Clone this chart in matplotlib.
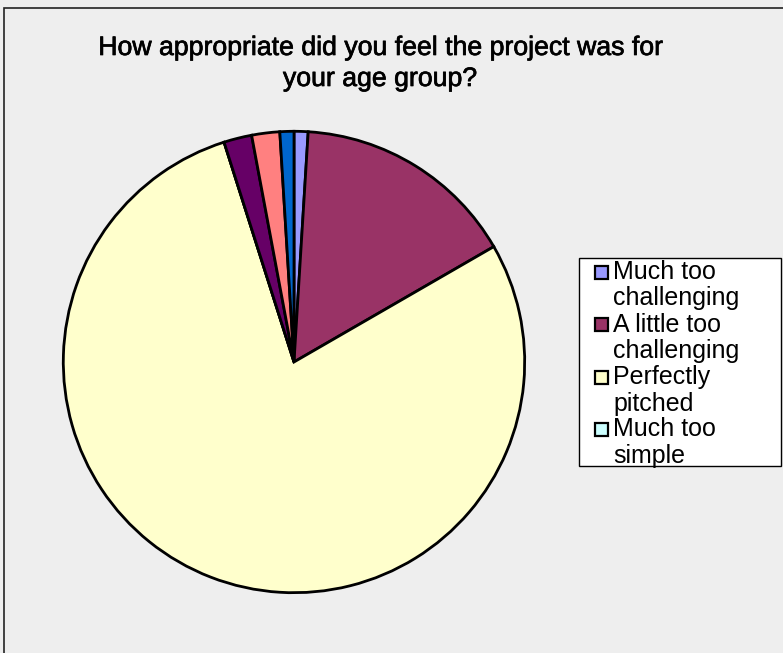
import matplotlib.pyplot as plt
import matplotlib.patheffects as pe
from matplotlib.patches import Rectangle

plt.rcParams['font.family'] = ['Liberation Sans', 'DejaVu Sans']

# survey answers (last three slices have no legend name)
labels = ["Much too\nchallenging", "A little too\nchallenging", "Perfectly\npitched", "Much too\nsimple", "", "", ""]
counts = [1, 16, 80, 0, 2, 2, 1]
colors = ["#9999FF", "#993366", "#FFFFCC", "#CCFFFF", "#660066", "#FF8080", "#0066CC"]

W, H = 783, 653
fig = plt.figure(figsize=(W / 100, H / 100), dpi=100)
fig.patch.set_facecolor("#EEEEEE")


def px(x, y):
    # pixel position (from top-left) -> figure fraction
    return x / W, 1 - y / H


# chart area border
fig.patches.append(Rectangle((4 / W, -0.1), 1.2, (H - 8) / H + 0.1, transform=fig.transFigure,
                             facecolor="none", edgecolor="#222222", linewidth=1.2))

thick = [pe.withStroke(linewidth=0.5, foreground="black")]
fig.text(*px(380, 48), "How appropriate did you feel the project was for",
         ha="center", va="center", fontsize=19.2, path_effects=thick)
fig.text(*px(380, 79), "your age group?", ha="center", va="center", fontsize=19.2, path_effects=thick)

# pie centred at (294, 362) px, radius 233 px
ax = fig.add_axes([61 / W, (H - 595) / H, 466 / W, 466 / H])
ax.set_facecolor("none")
ax.pie(counts, colors=colors, startangle=90, counterclock=False,
       wedgeprops=dict(edgecolor="black", linewidth=2))
ax.set_xlim(-1.01, 1.01)
ax.set_ylim(-1.01, 1.01)
ax.set_aspect("equal")
ax.axis("off")

# legend box, drawn by hand so the swatch sits on the first line of each label
x0, y0 = px(579, 466)
fig.patches.append(Rectangle((x0, y0), 202 / W, 208 / H, transform=fig.transFigure,
                             facecolor="white", edgecolor="black", linewidth=1))
for i in range(4):
    top = 272 + i * 52.5
    sx, sy = px(595, top + 6.5)
    fig.patches.append(Rectangle((sx, sy), 13 / W, 13 / H, transform=fig.transFigure,
                                 facecolor=colors[i], edgecolor="black", linewidth=1.6))
    for j, line in enumerate(labels[i].split("\n")):
        fig.text(*px(613, top + j * 26.5), line, ha="left", va="center", fontsize=18)

fig.savefig("out.png", dpi=100, facecolor=fig.get_facecolor())
